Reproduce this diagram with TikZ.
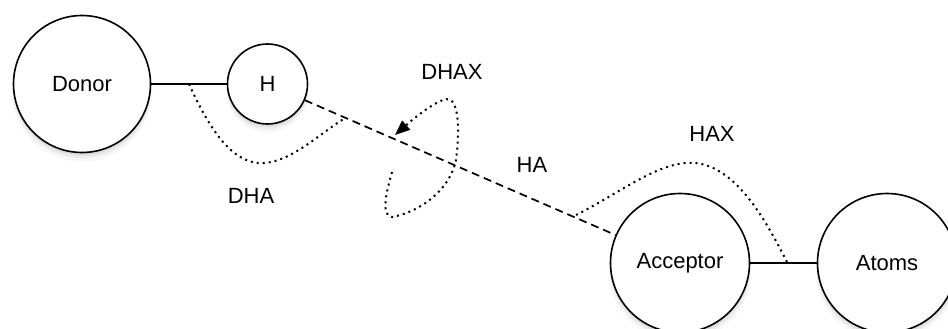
\documentclass[tikz,border=0pt]{standalone}
\usepackage{fontspec}
\setmainfont{Liberation Sans}
\usetikzlibrary{shadows,arrows.meta}
\tikzset{
  atom/.style={circle, draw=black, line width=1.6pt, fill=white, inner sep=0pt,
    font=\fontsize{22}{26}\selectfont,
    drop shadow={shadow xshift=0pt, shadow yshift=-7pt, opacity=0.06, shadow scale=1.03},
    drop shadow={shadow xshift=0pt, shadow yshift=-5pt, opacity=0.10, shadow scale=1.01},
    drop shadow={shadow xshift=0pt, shadow yshift=-3pt, opacity=0.14, shadow scale=1.0}},
  bond/.style={line width=1.7pt},
  hbond/.style={line width=1.7pt, dash pattern=on 8pt off 5pt},
  angle/.style={line width=2pt, dash pattern=on 2pt off 4pt},
  lbl/.style={font=\fontsize{22}{26}\selectfont, inner sep=0pt}
}
\begin{document}
\begin{tikzpicture}[x=1pt, y=-1pt]
\useasboundingbox (0,0) rectangle (948,329);
\clip (0,0) rectangle (948,329);
\coordinate (dc) at (82,84);
\coordinate (hc) at (267.5,84);
\coordinate (ac) at (680,263);
\coordinate (xc) at (887,263);
% atoms
\node[atom, minimum size=137pt] (donor) at (dc) {Donor};
\node[atom, minimum size=80pt] (h) at (hc) {H};
\node[atom, minimum size=139pt] (acc) at (ac) {Acceptor};
\node[atom, minimum size=139pt] (atoms) at (xc) {Atoms};
% bonds
\draw[bond] (donor) -- (h);
\draw[bond, line width=1.3pt] (acc) -- (atoms);
\draw[hbond] (h) -- (acc);
% angle curves
\coordinate (dha1) at (189,84);
\coordinate (dha2) at (345,118);
\draw[angle] (dha1) .. controls (212,135) and (235,165) .. (264,163)
  .. controls (292,161) and (318,135) .. (dha2);
\coordinate (dhax1) at (392,172);
\coordinate (dhax2) at (395,135);
\draw[angle, -{Triangle[length=15pt,width=12pt]}] (dhax1) .. controls (387,190) and (380,216) .. (392,217)
  .. controls (420,212) and (450,190) .. (456,160)
  .. controls (460,130) and (459,97) .. (446,99)
  .. controls (432,103) and (412,120) .. (dhax2);
\coordinate (hax1) at (576,215);
\coordinate (hax2) at (787,262);
\draw[angle] (hax1) .. controls (620,193) and (660,160) .. (695,163)
  .. controls (738,167) and (768,225) .. (hax2);
% labels
\node[lbl] (ldha) at (251,196) {DHA};
\node[lbl] (ldhax) at (452,72) {DHAX};
\node[lbl] (lha) at (532,165) {HA};
\node[lbl] (lhax) at (712,134) {HAX};
\end{tikzpicture}
\end{document}
